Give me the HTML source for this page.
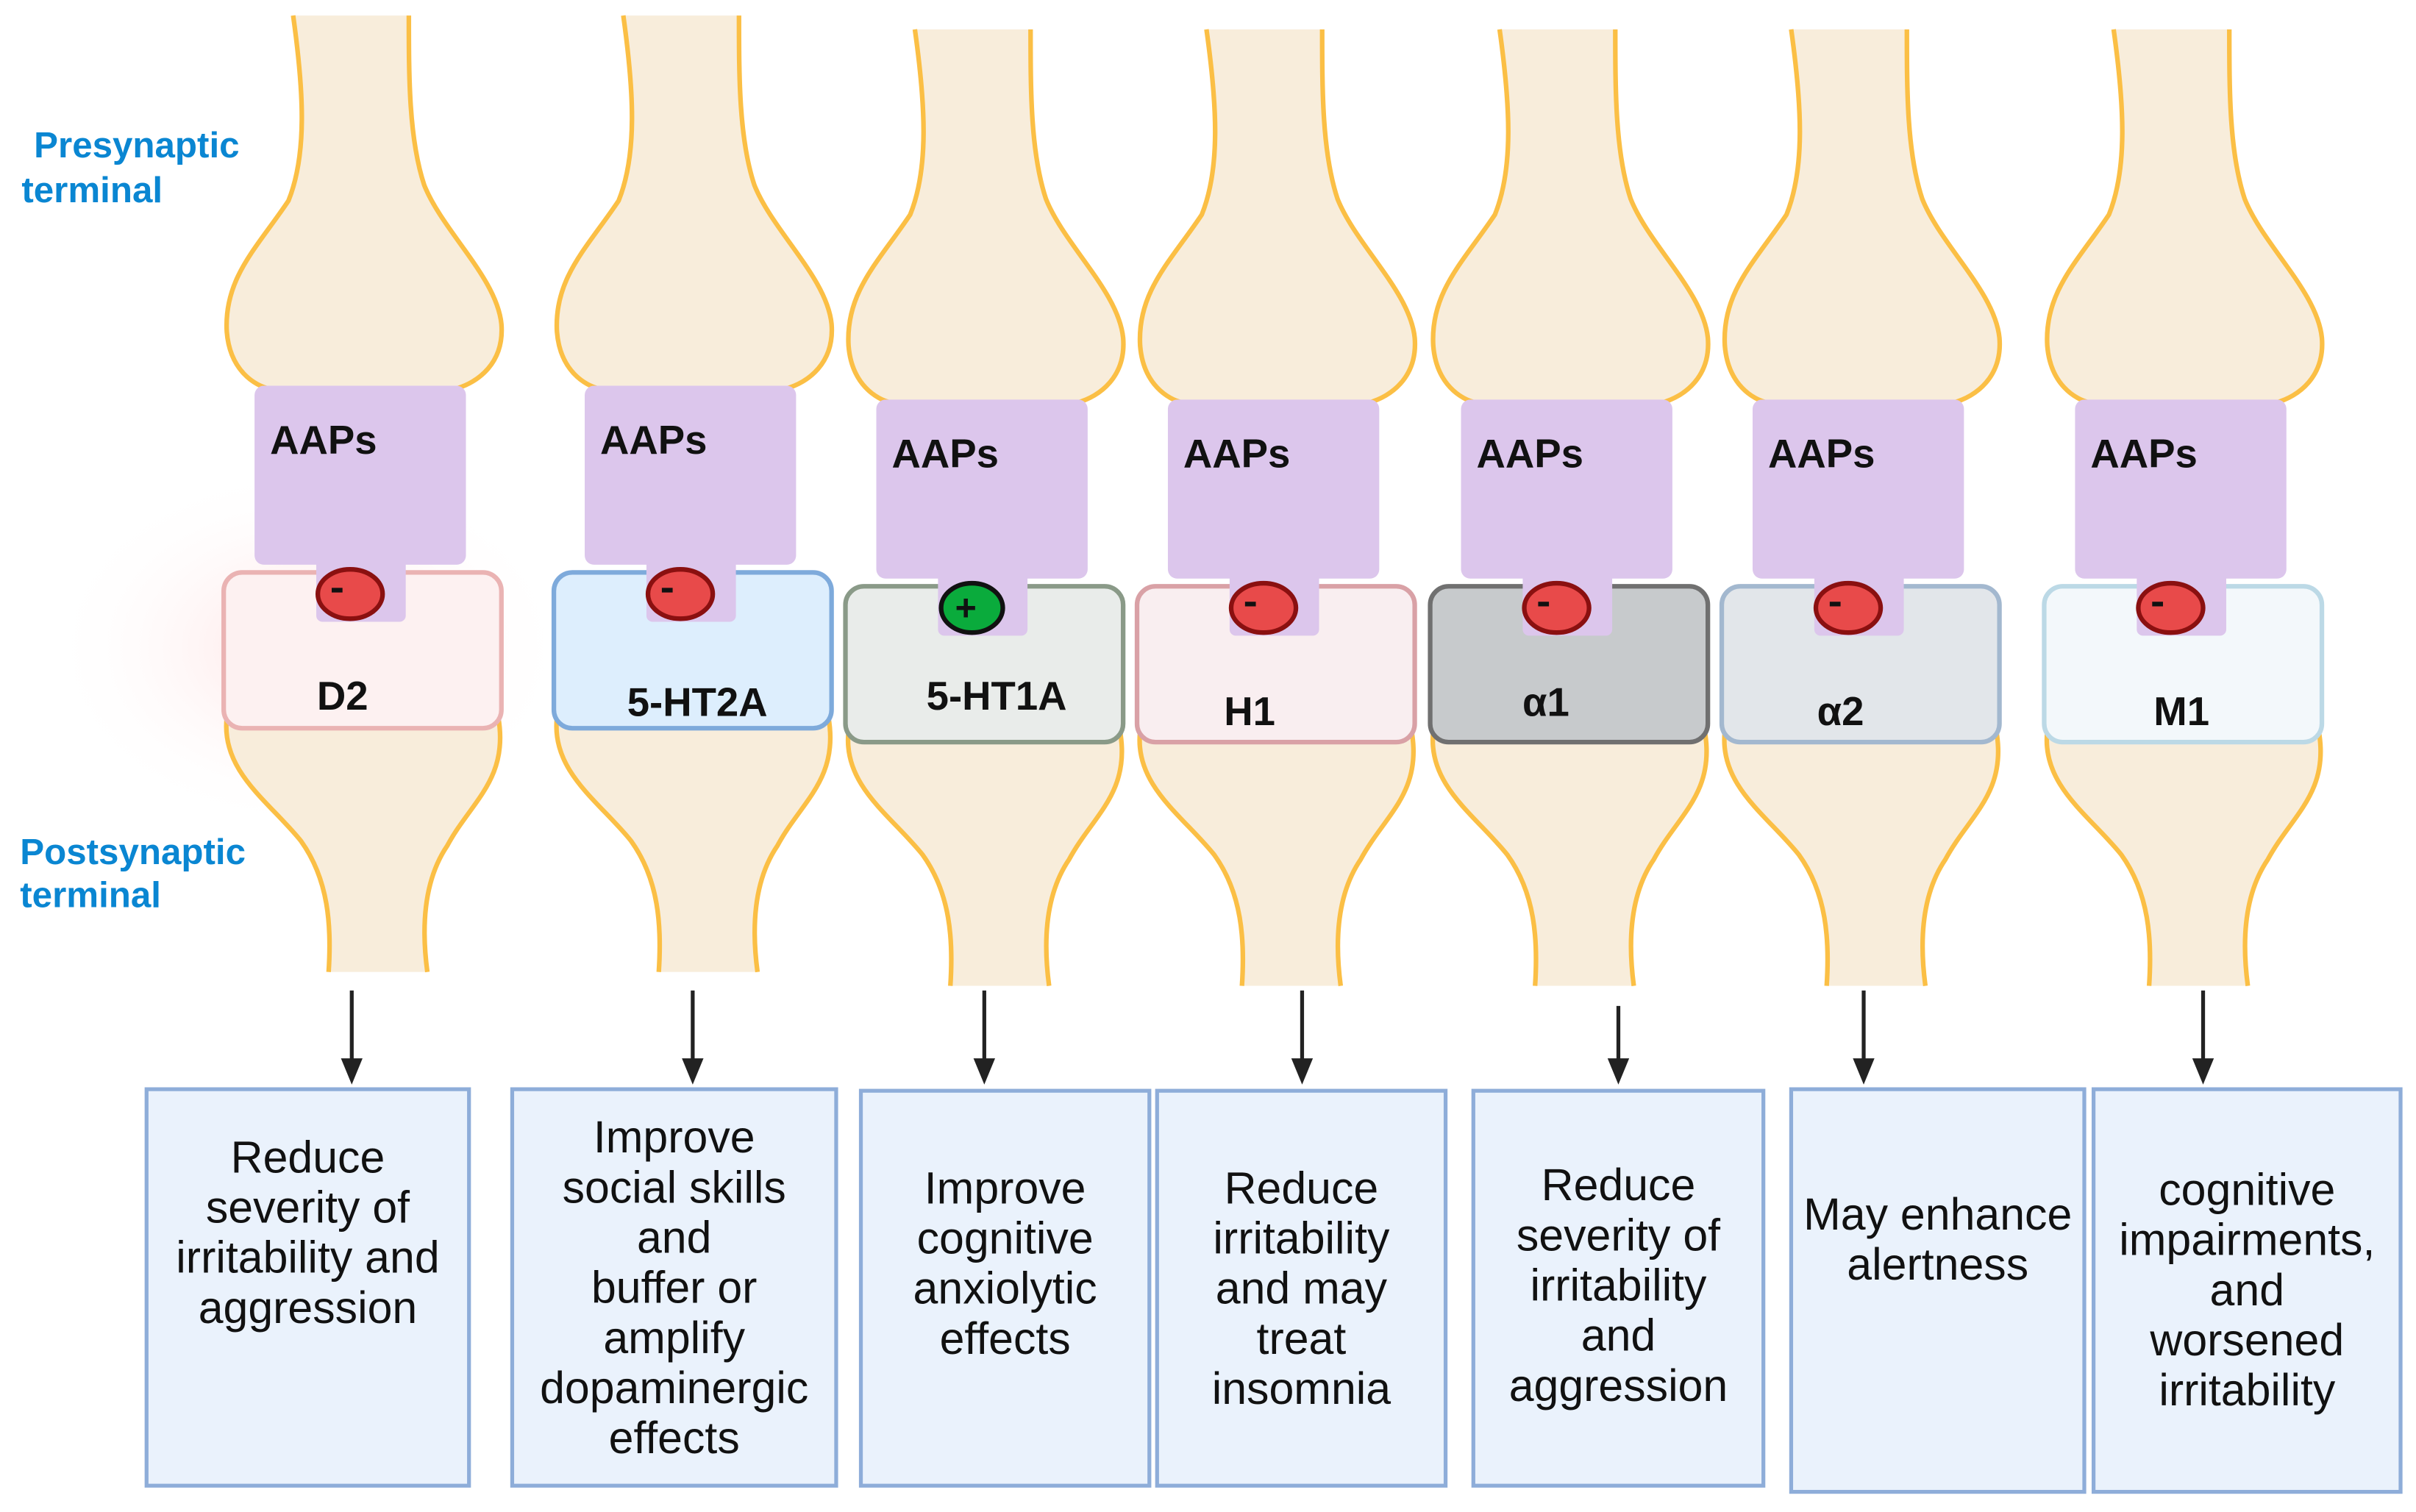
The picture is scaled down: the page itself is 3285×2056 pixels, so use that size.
<!DOCTYPE html>
<html><head><meta charset="utf-8"><style>
html,body{margin:0;padding:0;background:#fff;}
svg{display:block;}
.lab{font-family:"Liberation Sans",sans-serif;font-weight:bold;fill:#0a86d2;font-size:23.5px;}
.aap{font-family:"Liberation Sans",sans-serif;font-weight:bold;fill:#111;font-size:26px;}
.rec{font-family:"Liberation Sans",sans-serif;font-weight:bold;fill:#111;font-size:26px;text-anchor:middle;}
.bx{font-family:"Liberation Sans Narrow","Liberation Sans",sans-serif;fill:#111;font-size:29px;text-anchor:middle;}
</style></head><body>
<svg width="3285" height="2056" viewBox="0 0 1566 980" xmlns="http://www.w3.org/2000/svg">
<defs>
<radialGradient id="glow" cx="0.5" cy="0.5" r="0.5"><stop offset="0" stop-color="#ffd6d6" stop-opacity="0.7"/><stop offset="1" stop-color="#fff" stop-opacity="0"/></radialGradient>
</defs>
<ellipse cx="200" cy="420" rx="170" ry="120" fill="url(#glow)"/>
<text class="lab" x="22" y="102">Presynaptic</text>
<text class="lab" x="14" y="131">terminal</text>
<text class="lab" x="13" y="560">Postsynaptic</text>
<text class="lab" x="13" y="588">terminal</text>

<g id="cols"></g>
</svg>
<script>
const cols=[
 {cx:235,dy:0,fill:"#fdf1f1",stroke:"#eab3b3",lab:"D2",ly:460,lx:222,sign:"-",arrow:228,a0:642,bx:95,bw:209,by:706,bh:257,lines:["Reduce","severity of","irritability and","aggression"],ty:760},
 {cx:449,dy:0,fill:"#ddeefd",stroke:"#7eaadb",lab:"5-HT2A",ly:464,lx:452,sign:"-",arrow:449,a0:642,bx:332,bw:210,by:706,bh:257,lines:["Improve","social skills","and","buffer or","amplify","dopaminergic","effects"],ty:747},
 {cx:638,dy:9,fill:"#e9ecea",stroke:"#8a9a88",lab:"5-HT1A",ly:460,lx:646,sign:"+",arrow:638,a0:642,bx:558,bw:187,by:707,bh:256,lines:["Improve","cognitive","anxiolytic","effects"],ty:780},
 {cx:827,dy:9,fill:"#f9eef0",stroke:"#d9a1a6",lab:"H1",ly:470,lx:810,sign:"-",arrow:844,a0:642,bx:750,bw:187,by:707,bh:256,lines:["Reduce","irritability","and may","treat","insomnia"],ty:780},
 {cx:1017,dy:9,fill:"#c7cacc",stroke:"#707070",lab:"α1",ly:464,lx:1002,sign:"-",arrow:1049,a0:652,bx:955,bw:188,by:707,bh:256,lines:["Reduce","severity of","irritability","and","aggression"],ty:778},
 {cx:1206,dy:9,fill:"#e2e6ea",stroke:"#a3b8cf",lab:"α2",ly:470,lx:1193,sign:"-",arrow:1208,a0:642,bx:1161,bw:190,by:706,bh:261,lines:["May enhance","alertness"],ty:797},
 {cx:1415,dy:9,fill:"#f3f8fb",stroke:"#bcd9e6",lab:"M1",ly:470,lx:1414,sign:"-",arrow:1428,a0:642,bx:1357,bw:199,by:706,bh:261,lines:["cognitive","impairments,","and","worsened","irritability"],ty:781}
];
let s="";
for(const c of cols){
 const x=c.cx,d=c.dy,t=10+d;
 const pre=`M${x-45},${t} C${x-38},${60+d} ${x-36},${100+d} ${x-48},${130+d} C${x-68},${160+d} ${x-90},${180+d} ${x-88},${215+d} C${x-86},${240+d} ${x-70},${250+d} ${x-60},${252+d}`;
 const preR=`M${x+60},${252+d} C${x+75},${248+d} ${x+92},${235+d} ${x+90},${210+d} C${x+87},${180+d} ${x+52},${150+d} ${x+40},${120+d} C${x+30},${90+d} ${x+30},${50+d} ${x+30},${t}`;
 s+=`<path d="${pre} L${x+60},${252+d} ${preR.slice(preR.indexOf('C'))} Z" fill="#f8eddb"/>`;
 s+=`<path d="${pre}" fill="none" stroke="#fbbf45" stroke-width="3"/><path d="${preR}" fill="none" stroke="#fbbf45" stroke-width="3"/>`;
 const pb=630+d;
 const postL=`M${x-88},${465+d} C${x-92},${500+d} ${x-60},${520+d} ${x-40},${545+d} C${x-22},${570+d} ${x-20},${600+d} ${x-22},${pb}`;
 const postR=`M${x+42},${pb} C${x+38},${600+d} ${x+40},${570+d} ${x+55},${548+d} C${x+70},${520+d} ${x+95},${505+d} ${x+88},${465+d}`;
 s+=`<path d="${postL} L${x+42},${pb} ${postR.slice(postR.indexOf('C'))} Z" fill="#f8eddb"/>`;
 s+=`<path d="${postL}" fill="none" stroke="#fbbf45" stroke-width="3"/><path d="${postR}" fill="none" stroke="#fbbf45" stroke-width="3"/>`;
 s+=`<rect x="${x-90}" y="${371+d}" width="180" height="101" rx="12" fill="${c.fill}" stroke="${c.stroke}" stroke-width="3"/>`;
 s+=`<rect x="${x-70}" y="${250+d}" width="137" height="116" rx="6" fill="#dcc6ec"/>`;
 s+=`<rect x="${x-30}" y="${360+d}" width="58" height="43" rx="4" fill="#dcc6ec"/>`;
 s+=`<text class="aap" x="${x-60}" y="${294+d}">AAPs</text>`;
 const cy=385+d;
 if(c.sign=="+"){
  s+=`<ellipse cx="${x-8}" cy="${cy}" rx="20" ry="16" fill="#0aab3c" stroke="#111" stroke-width="3"/><text x="${x-12}" y="${cy+8}" font-family="Liberation Sans" font-weight="bold" font-size="24" text-anchor="middle" fill="#111">+</text>`;
 } else {
  s+=`<ellipse cx="${x-8}" cy="${cy}" rx="21" ry="16" fill="#e84a4a" stroke="#8a1010" stroke-width="3"/><rect x="${x-20}" y="${cy-4}" width="7" height="3" fill="#111"/>`;
 }
 s+=`<text class="rec" x="${c.lx}" y="${c.ly}">${c.lab}</text>`;
 s+=`<line x1="${c.arrow}" y1="${c.a0}" x2="${c.arrow}" y2="688" stroke="#222" stroke-width="2.5"/>`;
 s+=`<polygon points="${c.arrow-7},686 ${c.arrow+7},686 ${c.arrow},703" fill="#222"/>`;
 s+=`<rect x="${c.bx}" y="${c.by}" width="${c.bw}" height="${c.bh}" fill="#eaf2fc" stroke="#8eadd9" stroke-width="2.5"/>`;
 c.lines.forEach((l,i)=>{s+=`<text class="bx" x="${c.bx+c.bw/2}" y="${c.ty+i*32.5}">${l}</text>`;});
}
document.getElementById("cols").innerHTML=s;
</script>
</body></html>
